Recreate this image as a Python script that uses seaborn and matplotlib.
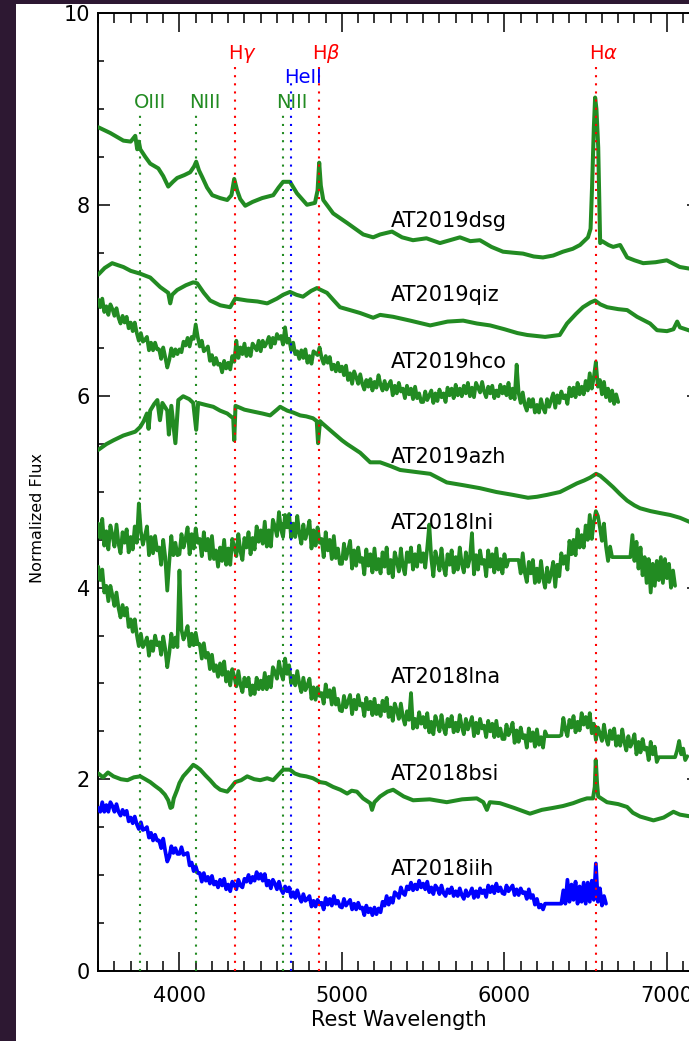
import numpy as np
import matplotlib
matplotlib.use("Agg")
import matplotlib.pyplot as plt
import seaborn as sns
from matplotlib.patches import Rectangle
from matplotlib.ticker import MultipleLocator

# ---------------- data ----------------
# smooth spectra: (rest wavelength [A], normalized flux)
dsg_pts = [(3500, 8.81), (3574, 8.75), (3655, 8.67), (3700, 8.66), (3728, 8.72), (3740, 8.58),
           (3750, 8.66), (3759, 8.58), (3790, 8.50), (3820, 8.43), (3870, 8.38), (3900, 8.30),
           (3931, 8.19), (3960, 8.24), (3986, 8.28), (4030, 8.31), (4066, 8.34), (4090, 8.40),
           (4103, 8.45), (4120, 8.36), (4140, 8.29), (4170, 8.18), (4202, 8.10), (4250, 8.07),
           (4294, 8.05), (4320, 8.10), (4337, 8.27), (4355, 8.15), (4374, 8.06), (4405, 7.99),
           (4450, 8.03), (4509, 8.07), (4577, 8.10), (4610, 8.18), (4638, 8.24), (4680, 8.24),
           (4723, 8.12), (4785, 8.00), (4834, 8.02), (4850, 8.15), (4860, 8.44), (4870, 8.20),
           (4885, 8.05), (4946, 7.91), (5032, 7.81), (5131, 7.69), (5192, 7.66), (5235, 7.69),
           (5308, 7.72), (5370, 7.66), (5437, 7.63), (5520, 7.65), (5603, 7.60), (5726, 7.66),
           (5790, 7.62), (5849, 7.63), (5920, 7.56), (5991, 7.51), (6050, 7.50), (6114, 7.49),
           (6180, 7.46), (6237, 7.45), (6300, 7.47), (6360, 7.51), (6420, 7.54), (6465, 7.58),
           (6514, 7.66), (6530, 7.75), (6539, 8.18), (6550, 8.80), (6558, 9.12), (6566, 9.00),
           (6577, 8.60), (6589, 7.60), (6601, 7.62), (6640, 7.58), (6669, 7.56), (6712, 7.58),
           (6755, 7.45), (6800, 7.42), (6854, 7.39), (6930, 7.40), (6999, 7.42), (7079, 7.35),
           (7150, 7.33)]

qiz_pts = [(3500, 7.27), (3540, 7.34), (3586, 7.39), (3620, 7.37), (3655, 7.35), (3700, 7.31),
           (3759, 7.28), (3820, 7.24), (3882, 7.14), (3931, 7.08), (3943, 6.97), (3955, 7.06),
           (3986, 7.11), (4040, 7.16), (4085, 7.19), (4109, 7.18), (4150, 7.08), (4189, 7.00),
           (4251, 6.95), (4312, 6.93), (4343, 7.02), (4380, 7.01), (4417, 7.00), (4480, 6.99),
           (4540, 6.97), (4600, 7.02), (4638, 7.06), (4680, 7.09), (4720, 7.06), (4760, 7.04),
           (4810, 7.10), (4846, 7.13), (4908, 7.08), (4950, 7.00), (4988, 6.93), (5050, 6.90),
           (5111, 6.87), (5192, 6.82), (5235, 6.85), (5315, 6.83), (5420, 6.79), (5543, 6.74),
           (5650, 6.78), (5746, 6.79), (5830, 6.76), (5912, 6.74), (6000, 6.70), (6080, 6.66),
           (6140, 6.64), (6250, 6.62), (6340, 6.64), (6385, 6.76), (6440, 6.86), (6483, 6.93),
           (6530, 6.98), (6558, 7.00), (6590, 6.96), (6632, 6.93), (6700, 6.91), (6755, 6.90),
           (6816, 6.83), (6896, 6.76), (6939, 6.69), (7000, 6.68), (7040, 6.70), (7063, 6.78),
           (7080, 6.72), (7150, 6.68)]

azh_pts = [(3500, 5.44), (3550, 5.50), (3594, 5.54), (3655, 5.59), (3728, 5.63), (3759, 5.68),
           (3780, 5.74), (3800, 5.82), (3810, 5.66), (3820, 5.85), (3845, 5.92), (3864, 5.96),
           (3880, 5.75), (3895, 5.93), (3925, 5.85), (3935, 5.60), (3950, 5.90), (3975, 5.51),
           (3993, 5.96), (4023, 6.00), (4060, 5.97), (4085, 5.93), (4103, 5.65), (4115, 5.93),
           (4160, 5.91), (4208, 5.89), (4250, 5.85), (4294, 5.82), (4331, 5.77), (4337, 5.54),
           (4345, 5.90), (4400, 5.86), (4454, 5.84), (4510, 5.82), (4558, 5.80), (4600, 5.86),
           (4620, 5.89), (4663, 5.85), (4700, 5.83), (4743, 5.80), (4780, 5.79), (4822, 5.77),
           (4845, 5.74), (4853, 5.51), (4865, 5.74), (4877, 5.72), (4945, 5.62), (5000, 5.54),
           (5032, 5.50), (5112, 5.41), (5174, 5.31), (5235, 5.31), (5300, 5.27), (5358, 5.23),
           (5450, 5.21), (5543, 5.19), (5645, 5.10), (5750, 5.07), (5849, 5.04), (5950, 5.00),
           (6052, 4.97), (6145, 4.94), (6200, 4.95), (6262, 4.97), (6342, 5.00), (6400, 5.05),
           (6446, 5.09), (6490, 5.12), (6527, 5.15), (6564, 5.19), (6589, 5.17), (6630, 5.11),
           (6669, 5.05), (6710, 4.98), (6755, 4.91), (6800, 4.86), (6835, 4.83), (6900, 4.80),
           (6958, 4.78), (7020, 4.76), (7081, 4.73), (7150, 4.68)]

bsi_pts = [(3500, 2.06), (3530, 2.02), (3560, 2.07), (3594, 2.03), (3640, 2.00), (3680, 1.99),
           (3720, 2.02), (3759, 2.03), (3790, 2.00), (3820, 1.97), (3850, 1.93), (3882, 1.89),
           (3910, 1.84), (3931, 1.78), (3945, 1.70), (3955, 1.71), (3965, 1.80), (3986, 1.89),
           (4000, 1.96), (4023, 2.03), (4060, 2.10), (4085, 2.15), (4105, 2.13), (4128, 2.10),
           (4160, 2.04), (4189, 1.99), (4220, 1.93), (4251, 1.89), (4294, 1.87), (4320, 1.92),
           (4343, 1.97), (4380, 1.99), (4417, 2.03), (4460, 2.00), (4497, 1.99), (4540, 2.01),
           (4577, 1.99), (4610, 2.05), (4638, 2.10), (4680, 2.10), (4710, 2.06), (4743, 2.04),
           (4780, 2.03), (4822, 2.01), (4865, 1.97), (4900, 1.96), (4945, 1.92), (4990, 1.89),
           (5032, 1.85), (5060, 1.88), (5092, 1.87), (5130, 1.80), (5174, 1.75), (5185, 1.68),
           (5200, 1.76), (5235, 1.82), (5280, 1.87), (5315, 1.89), (5380, 1.82), (5438, 1.78),
           (5540, 1.79), (5645, 1.76), (5740, 1.79), (5830, 1.80), (5870, 1.76), (5892, 1.68),
           (5910, 1.76), (5972, 1.75), (6060, 1.70), (6157, 1.64), (6230, 1.68), (6298, 1.70),
           (6360, 1.72), (6423, 1.75), (6470, 1.78), (6508, 1.80), (6545, 1.80), (6556, 1.92),
           (6562, 2.20), (6570, 1.95), (6577, 1.82), (6631, 1.76), (6700, 1.74), (6755, 1.71),
           (6790, 1.65), (6835, 1.61), (6917, 1.57), (6980, 1.60), (7040, 1.66), (7080, 1.63),
           (7150, 1.61)]

GRID_START, GRID_STEP = 3500.0, 12.5
hco_flux = [
    7.01, 6.93, 7.02, 6.88, 6.94, 6.85, 6.96, 6.91, 6.84, 6.92, 6.82, 6.76, 6.84, 6.77, 6.83, 6.71, 6.77, 6.68, 6.77, 6.66,
    6.58, 6.66, 6.57, 6.59, 6.62, 6.48, 6.56, 6.48, 6.56, 6.49, 6.49, 6.39, 6.51, 6.41, 6.30, 6.38, 6.50, 6.42, 6.49, 6.44,
    6.49, 6.46, 6.57, 6.53, 6.61, 6.52, 6.62, 6.60, 6.75, 6.62, 6.52, 6.58, 6.47, 6.49, 6.52, 6.37, 6.43, 6.33, 6.40, 6.33,
    6.34, 6.25, 6.37, 6.29, 6.35, 6.28, 6.42, 6.36, 6.58, 6.40, 6.51, 6.44, 6.55, 6.42, 6.50, 6.42, 6.55, 6.52, 6.48, 6.58,
    6.47, 6.58, 6.52, 6.56, 6.62, 6.51, 6.61, 6.55, 6.65, 6.60, 6.63, 6.54, 6.72, 6.56, 6.60, 6.48, 6.56, 6.44, 6.47, 6.39,
    6.48, 6.40, 6.49, 6.35, 6.42, 6.34, 6.47, 6.45, 6.43, 6.51, 6.40, 6.34, 6.42, 6.35, 6.41, 6.28, 6.33, 6.26, 6.35, 6.26,
    6.31, 6.22, 6.32, 6.17, 6.24, 6.13, 6.26, 6.20, 6.13, 6.23, 6.13, 6.07, 6.17, 6.10, 6.18, 6.06, 6.15, 6.09, 6.22, 6.12,
    6.06, 6.16, 6.07, 6.12, 6.16, 6.01, 6.11, 6.03, 6.14, 6.05, 6.08, 5.98, 6.11, 6.02, 6.08, 5.97, 6.10, 5.98, 6.03, 5.94,
    5.94, 6.05, 5.96, 6.01, 6.06, 5.93, 6.03, 5.95, 6.07, 5.99, 6.03, 5.94, 6.09, 6.01, 6.08, 5.98, 6.12, 6.01, 6.08, 6.00,
    6.11, 6.03, 6.14, 6.00, 6.09, 5.99, 6.14, 6.09, 6.04, 6.15, 6.05, 5.99, 6.10, 6.03, 6.11, 5.98, 6.06, 6.00, 6.12, 6.03,
    6.10, 6.01, 6.14, 5.98, 6.08, 5.97, 6.33, 6.03, 5.93, 6.04, 5.91, 5.85, 5.97, 5.89, 5.97, 5.83, 5.91, 5.83, 5.97, 5.88,
    5.83, 5.97, 5.89, 5.96, 6.03, 5.88, 6.01, 5.93, 6.05, 5.98, 6.01, 5.92, 6.09, 6.00, 6.09, 5.99, 6.14, 6.02, 6.10, 6.02,
    6.16, 6.06, 6.24, 6.08, 6.20, 6.36, 6.10, 6.17, 6.02, 6.15, 5.99, 6.08, 5.95, 6.06, 5.92, 6.02, 5.94]

lni_flux = [
    4.67, 4.52, 4.72, 4.44, 4.59, 4.40, 4.65, 4.55, 4.43, 4.66, 4.46, 4.36, 4.58, 4.47, 4.61, 4.37, 4.53, 4.40, 4.64, 4.47,
    4.88, 4.59, 4.45, 4.54, 4.64, 4.34, 4.53, 4.36, 4.54, 4.39, 4.42, 4.24, 4.50, 4.32, 3.97, 4.27, 4.54, 4.34, 4.47, 4.34,
    4.35, 4.56, 4.42, 4.51, 4.63, 4.35, 4.56, 4.41, 4.62, 4.47, 4.51, 4.33, 4.58, 4.39, 4.51, 4.30, 4.54, 4.30, 4.39, 4.22,
    4.42, 4.28, 4.50, 4.24, 4.41, 4.24, 4.51, 4.43, 4.33, 4.56, 4.38, 4.29, 4.52, 4.42, 4.58, 4.35, 4.52, 4.40, 4.64, 4.48,
    4.60, 4.46, 4.69, 4.43, 4.60, 4.43, 4.71, 4.64, 4.54, 4.79, 4.61, 4.53, 4.76, 4.63, 4.77, 4.52, 4.67, 4.53, 4.75, 4.57,
    4.46, 4.66, 4.51, 4.59, 4.70, 4.41, 4.60, 4.44, 4.63, 4.47, 4.51, 4.32, 4.58, 4.39, 4.50, 4.30, 4.54, 4.31, 4.41, 4.25,
    4.25, 4.46, 4.30, 4.39, 4.49, 4.20, 4.39, 4.23, 4.42, 4.27, 4.31, 4.14, 4.40, 4.23, 4.35, 4.16, 4.41, 4.19, 4.30, 4.15,
    4.37, 4.22, 4.42, 4.15, 4.29, 4.11, 4.37, 4.28, 4.17, 4.41, 4.22, 4.14, 4.37, 4.27, 4.42, 4.19, 4.35, 4.22, 4.44, 4.27,
    4.36, 4.21, 4.42, 4.66, 4.30, 4.12, 4.38, 4.29, 4.18, 4.41, 4.22, 4.13, 4.35, 4.24, 4.39, 4.16, 4.32, 4.19, 4.42, 4.25,
    4.16, 4.37, 4.22, 4.31, 4.57, 4.14, 4.34, 4.19, 4.39, 4.25, 4.29, 4.12, 4.39, 4.22, 4.35, 4.16, 4.41, 4.19, 4.30, 4.15,
    4.35, 4.22, 4.29, 4.29, 4.29, 4.29, 4.29, 4.29, 4.15, 4.36, 4.16, 4.06, 4.27, 4.15, 4.29, 4.05, 4.20, 4.06, 4.28, 4.10,
    4.00, 4.21, 4.06, 4.15, 4.27, 4.01, 4.24, 4.12, 4.36, 4.25, 4.33, 4.19, 4.49, 4.35, 4.50, 4.34, 4.61, 4.42, 4.55, 4.42,
    4.65, 4.50, 4.76, 4.51, 4.69, 4.80, 4.75, 4.63, 4.49, 4.67, 4.43, 4.28, 4.43, 4.32, 4.32, 4.32, 4.32, 4.32, 4.32, 4.32,
    4.32, 4.32, 4.32, 4.55, 4.28, 4.48, 4.20, 4.42, 4.13, 4.32, 4.05, 4.30, 3.95, 4.25, 4.02, 4.28, 4.08, 4.32, 4.05, 4.30,
    4.10, 4.25, 4.00, 4.18, 4.02]

lna_flux = [
    4.22, 4.08, 4.19, 3.95, 4.02, 3.86, 4.02, 3.92, 3.81, 3.95, 3.79, 3.69, 3.82, 3.71, 3.79, 3.59, 3.67, 3.54, 3.67, 3.51,
    3.39, 3.52, 3.38, 3.42, 3.48, 3.29, 3.44, 3.34, 3.50, 3.40, 3.43, 3.30, 3.49, 3.36, 3.17, 3.32, 3.52, 3.38, 3.48, 3.38,
    4.18, 3.56, 3.46, 3.52, 3.60, 3.39, 3.52, 3.40, 3.53, 3.41, 3.41, 3.26, 3.42, 3.27, 3.32, 3.15, 3.30, 3.13, 3.19, 3.07,
    3.21, 3.09, 3.23, 3.02, 3.12, 2.98, 3.15, 3.07, 2.97, 3.13, 2.99, 2.91, 3.06, 2.97, 3.06, 2.88, 2.98, 2.89, 3.06, 2.94,
    3.03, 2.94, 3.11, 2.94, 3.07, 2.96, 3.17, 3.12, 3.05, 3.23, 3.11, 3.04, 3.26, 3.10, 3.19, 3.00, 3.08, 2.98, 3.13, 3.00,
    2.91, 3.06, 2.93, 2.98, 3.05, 2.84, 2.96, 2.83, 2.96, 2.87, 2.90, 2.79, 2.99, 2.86, 2.93, 2.78, 2.95, 2.78, 2.84, 2.72,
    2.71, 2.87, 2.75, 2.81, 2.88, 2.68, 2.83, 2.73, 2.88, 2.77, 2.79, 2.66, 2.85, 2.73, 2.81, 2.67, 2.84, 2.68, 2.77, 2.66,
    2.82, 2.71, 2.85, 2.65, 2.75, 2.61, 2.79, 2.72, 2.63, 2.79, 2.65, 2.57, 2.71, 2.62, 2.90, 2.53, 2.63, 2.54, 2.70, 2.58,
    2.65, 2.54, 2.69, 2.49, 2.60, 2.47, 2.66, 2.59, 2.50, 2.67, 2.54, 2.47, 2.63, 2.55, 2.66, 2.49, 2.59, 2.50, 2.67, 2.55,
    2.47, 2.63, 2.52, 2.58, 2.65, 2.45, 2.59, 2.48, 2.63, 2.53, 2.56, 2.44, 2.61, 2.50, 2.58, 2.44, 2.61, 2.45, 2.53, 2.42,
    2.42, 2.57, 2.46, 2.51, 2.59, 2.38, 2.51, 2.39, 2.54, 2.43, 2.46, 2.33, 2.53, 2.40, 2.49, 2.34, 2.52, 2.36, 2.44, 2.33,
    2.50, 2.45, 2.45, 2.45, 2.45, 2.45, 2.45, 2.45, 2.46, 2.64, 2.52, 2.45, 2.62, 2.54, 2.66, 2.49, 2.60, 2.51, 2.69, 2.57,
    2.65, 2.54, 2.69, 2.48, 2.58, 2.41, 2.54, 2.48, 2.40, 2.57, 2.43, 2.36, 2.51, 2.42, 2.53, 2.35, 2.45, 2.35, 2.52, 2.39,
    2.30, 2.45, 2.34, 2.39, 2.47, 2.26, 2.39, 2.28, 2.42, 2.31, 2.33, 2.20, 2.39, 2.26, 2.34, 2.18, 2.23, 2.23, 2.23, 2.23,
    2.23, 2.23, 2.23, 2.23, 2.23, 2.30, 2.40, 2.26, 2.32, 2.20, 2.24]

iih_flux = [
    1.70, 1.66, 1.76, 1.66, 1.73, 1.66, 1.76, 1.72, 1.66, 1.74, 1.66, 1.62, 1.68, 1.63, 1.67, 1.56, 1.60, 1.54, 1.61, 1.53,
    1.48, 1.55, 1.47, 1.48, 1.50, 1.39, 1.44, 1.36, 1.42, 1.36, 1.36, 1.28, 1.38, 1.25, 1.14, 1.19, 1.30, 1.23, 1.28, 1.22,
    1.22, 1.29, 1.21, 1.22, 1.23, 1.10, 1.13, 1.04, 1.09, 1.02, 1.02, 0.93, 1.02, 0.94, 0.98, 0.91, 0.99, 0.90, 0.93, 0.87,
    0.95, 0.89, 0.96, 0.85, 0.90, 0.83, 0.93, 0.90, 0.85, 0.95, 0.89, 0.87, 0.96, 0.93, 1.00, 0.92, 0.98, 0.94, 1.03, 0.96,
    1.01, 0.94, 1.01, 0.89, 0.94, 0.86, 0.95, 0.91, 0.85, 0.93, 0.85, 0.81, 0.88, 0.83, 0.87, 0.77, 0.82, 0.76, 0.84, 0.77,
    0.72, 0.80, 0.73, 0.75, 0.78, 0.67, 0.73, 0.67, 0.74, 0.69, 0.71, 0.64, 0.76, 0.69, 0.75, 0.68, 0.78, 0.70, 0.73, 0.67,
    0.66, 0.75, 0.68, 0.71, 0.74, 0.64, 0.70, 0.64, 0.71, 0.65, 0.66, 0.58, 0.68, 0.61, 0.65, 0.58, 0.66, 0.59, 0.65, 0.61,
    0.72, 0.68, 0.78, 0.69, 0.76, 0.71, 0.82, 0.80, 0.76, 0.87, 0.81, 0.79, 0.88, 0.85, 0.92, 0.84, 0.90, 0.85, 0.94, 0.87,
    0.91, 0.85, 0.93, 0.82, 0.87, 0.80, 0.89, 0.86, 0.80, 0.89, 0.81, 0.78, 0.85, 0.81, 0.87, 0.78, 0.83, 0.78, 0.86, 0.79,
    0.75, 0.84, 0.78, 0.81, 0.86, 0.76, 0.83, 0.77, 0.86, 0.81, 0.84, 0.77, 0.89, 0.82, 0.88, 0.81, 0.91, 0.83, 0.87, 0.81,
    0.80, 0.89, 0.83, 0.86, 0.89, 0.79, 0.85, 0.79, 0.86, 0.81, 0.82, 0.75, 0.85, 0.76, 0.79, 0.69, 0.75, 0.66, 0.69, 0.64,
    0.70, 0.70, 0.70, 0.70, 0.70, 0.70, 0.70, 0.70, 0.70, 0.84, 0.70, 0.95, 0.72, 0.90, 0.74, 0.93, 0.70, 0.88, 0.72, 0.92,
    0.70, 0.92, 0.72, 0.94, 0.74, 1.12, 0.72, 0.86, 0.68, 0.78, 0.70]

# object names and the flux level of their labels
names = ["AT2019dsg", "AT2019qiz", "AT2019hco", "AT2019azh",
         "AT2018lni", "AT2018lna", "AT2018bsi", "AT2018iih"]
name_label_flux = [7.77, 7.00, 6.30, 5.30, 4.61, 3.00, 1.99, 1.00]
name_label_wave = 5300

# line identifications
line_labels = ["OIII", "NIII", r"H$\gamma$", "NIII", "HeII", r"H$\beta$", r"H$\alpha$"]
line_waves = [3760, 4100, 4340, 4640, 4686, 4861, 6563]
line_kind = ["green", "green", "red", "green", "blue", "red", "red"]

# ---------------- styling ----------------
GREEN = "#228B22"
BLUE = "#0000FF"
RED = "#FF0000"
kind_color = {"green": GREEN, "red": RED, "blue": BLUE}
kind_label_y = {"red": 9.52, "blue": 9.27, "green": 9.01}
kind_line_top = {"red": 9.47, "blue": 9.29, "green": 8.98}

sns.set_style("ticks")
plt.rcParams["font.family"] = ["DejaVu Sans"]
plt.rcParams["mathtext.fontset"] = "dejavusans"

W, H = 689, 1041
fig = plt.figure(figsize=(W / 100, H / 100), dpi=100)
fig.patch.set_facecolor("#2d1832")
fig.add_artist(Rectangle((16 / W, 0), 1, 1 - 4 / H, transform=fig.transFigure,
                         facecolor="white", edgecolor="none", zorder=-10))

ax = fig.add_axes([98.2 / W, 70.3 / H, 601.25 / W, 957.4 / H])
ax.set_facecolor("white")


def grid_wave(flux):
    return GRID_START + GRID_STEP * np.arange(len(flux))


# (wave, flux, colour, line width)
spectra = [
    (np.array(dsg_pts)[:, 0], np.array(dsg_pts)[:, 1], GREEN, 2.9),
    (np.array(qiz_pts)[:, 0], np.array(qiz_pts)[:, 1], GREEN, 2.9),
    (grid_wave(hco_flux), np.array(hco_flux), GREEN, 2.7),
    (np.array(azh_pts)[:, 0], np.array(azh_pts)[:, 1], GREEN, 2.9),
    (grid_wave(lni_flux), np.array(lni_flux), GREEN, 2.7),
    (grid_wave(lna_flux), np.array(lna_flux), GREEN, 2.7),
    (np.array(bsi_pts)[:, 0], np.array(bsi_pts)[:, 1], GREEN, 2.9),
    (grid_wave(iih_flux), np.array(iih_flux), BLUE, 2.7),
]

for (wv, fl, col, lw) in spectra:
    sns.lineplot(x=wv, y=fl, ax=ax, color=col, lw=lw, sort=False,
                 estimator=None, zorder=3)

# dotted line markers
for lab, wv, kind in zip(line_labels, line_waves, line_kind):
    c = kind_color[kind]
    ax.vlines(wv, 0, kind_line_top[kind], colors=c, linestyles=(0, (1, 2.9)),
              lw=1.5, zorder=4)
    ax.text(wv - 43, kind_label_y[kind], lab, color=c, fontsize=14,
            ha="left", va="baseline", zorder=5)

for nm, fy in zip(names, name_label_flux):
    ax.text(name_label_wave, fy, nm, fontsize=15, color="black",
            ha="left", va="baseline", zorder=5)

ax.set_xlim(3500, 7200)
ax.set_ylim(0, 10)
ax.xaxis.set_major_locator(MultipleLocator(1000))
ax.xaxis.set_minor_locator(MultipleLocator(100))
ax.yaxis.set_major_locator(MultipleLocator(2))
ax.yaxis.set_minor_locator(MultipleLocator(0.5))
ax.tick_params(axis="x", which="major", direction="in", length=13.7, width=1.1,
               top=True, bottom=True, labelsize=15, pad=11, colors="black")
ax.tick_params(axis="x", which="minor", direction="in", length=7.2, width=1.1,
               top=True, bottom=True, colors="black")
ax.tick_params(axis="y", which="major", direction="in", length=8.6, width=1.1,
               left=True, right=True, labelsize=15, pad=6, colors="black")
ax.tick_params(axis="y", which="minor", direction="in", length=4.3, width=1.1,
               left=True, right=True, colors="black")
for sp in ax.spines.values():
    sp.set_linewidth(1.4)
    sp.set_color("black")
    sp.set_visible(True)

ax.set_xlabel("Rest Wavelength", fontsize=15, color="black")
ax.xaxis.set_label_coords(0.5, -0.041)
ax.set_ylabel("Normalized Flux", fontsize=11.5, color="black")
ax.yaxis.set_label_coords(-0.089, 0.473)

fig.savefig("out.png", dpi=100, facecolor=fig.get_facecolor())
